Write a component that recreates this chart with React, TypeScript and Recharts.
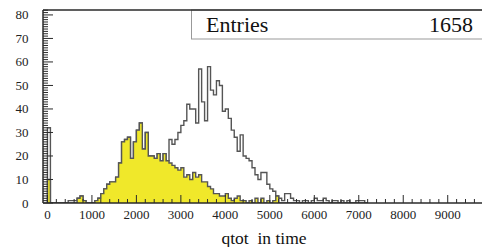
import React from 'react';
import { ComposedChart, Area, XAxis, YAxis } from 'recharts';

// 150 bins over 0..10000 (bin width 66.67)
const BIN_COUNT = 150;
const X_MAX = 10000;

// all entries (white histogram), one value per bin starting at 0
const totalCounts = [
  32, 0, 0, 0, 0, 0, 0, 1, 1, 1,
  2, 3, 1, 0, 0, 0, 1, 2, 4, 6,
  8, 9, 9, 11, 17, 26, 27, 28, 19, 26,
  31, 34, 23, 30, 20, 20, 19, 21, 18, 21,
  18, 27, 25, 27, 30, 33, 35, 42, 40, 40,
  34, 57, 43, 35, 58, 48, 46, 52, 50, 39,
  40, 36, 31, 28, 22, 29, 20, 19, 18, 15,
  12, 10, 13, 13, 8, 6, 5, 3, 2, 1,
  4, 4, 2, 1, 1, 0, 1, 1, 0, 1,
  2, 1, 1, 2, 1, 0, 1, 1, 0, 1,
  0, 1, 0, 0, 1, 1, 1, 0,
];

// selected entries (yellow filled histogram)
const passCounts = [
  10, 0, 0, 0, 0, 0, 0, 0, 0, 0,
  2, 3, 1, 0, 0, 0, 1, 2, 4, 6,
  8, 9, 9, 11, 17, 26, 27, 28, 19, 26,
  31, 34, 23, 30, 20, 20, 19, 21, 18, 21,
  18, 17, 16, 15, 14, 15, 11, 12, 10, 13,
  11, 12, 9, 9, 7, 6, 4, 4, 3, 3,
  4, 2, 1, 2, 3, 1, 1, 0, 1, 0,
  2, 0, 2, 0, 1, 0, 1, 3, 0, 0,
];

const xMajorTicks = [0, 1000, 2000, 3000, 4000, 5000, 6000, 7000, 8000, 9000];
const yMajorTicks = [0, 10, 20, 30, 40, 50, 60, 70, 80];
const statsLabel = 'Entries';
const statsValue = '1658';
const xTitle = 'qtot  in time';

const binWidth = X_MAX / BIN_COUNT;
const nBins = Math.max(totalCounts.length, passCounts.length);
const data: { x: number; total: number; pass: number }[] = [{ x: 0, total: 0, pass: 0 }];
for (let i = 0; i < nBins; i++) {
  data.push({ x: i * binWidth, total: totalCounts[i] ?? 0, pass: passCounts[i] ?? 0 });
}
data.push({ x: nBins * binWidth, total: 0, pass: 0 });

const xMinorTicks: number[] = [];
for (let v = 0; v < X_MAX; v += 200) xMinorTicks.push(v);
const yMinorTicks: number[] = [];
for (let v = 0; v <= 82; v += 1) yMinorTicks.push(v);

const FONT = '"Liberation Serif", "Times New Roman", serif';
const AXIS = '#2a2a2a';

const XTick = (props: any) => {
  const { x, y, payload } = props;
  const v = payload.value;
  const major = xMajorTicks.includes(v);
  return (
    <g>
      <line x1={x} x2={x} y1={y} y2={y - (major ? 8 : 4)} stroke={AXIS} strokeWidth={1} />
      {major && (
        <text x={x} y={y + 15.8} textAnchor="middle" fontFamily={FONT} fontSize={13} fill="#222">
          {v}
        </text>
      )}
    </g>
  );
};

const YTick = (props: any) => {
  const { x, y, payload } = props;
  const v = payload.value;
  const major = yMajorTicks.includes(v);
  return (
    <g>
      <line x1={x} x2={x + (major ? 10 : 5)} y1={y} y2={y} stroke={AXIS} strokeWidth={1} />
      {major && (
        <text x={x - 14.5} y={y + 4.5} textAnchor="end" fontFamily={FONT} fontSize={13} fill="#222">
          {v}
        </text>
      )}
    </g>
  );
};

export default function App() {
  return (
    <div style={{ position: 'absolute', left: 0, top: 0, width: 482, height: 247, overflow: 'hidden', background: '#fff' }}>
      <ComposedChart width={500} height={247} data={data} margin={{ top: 10, right: 7.8, left: 0, bottom: 0 }}>
        <XAxis
          dataKey="x"
          type="number"
          domain={[-100, X_MAX]}
          allowDataOverflow
          ticks={xMinorTicks}
          interval={0}
          tickSize={0}
          tickMargin={0}
          tickLine={false}
          axisLine={{ stroke: AXIS, strokeWidth: 1.5 }}
          height={44}
          tick={<XTick />}
        />
        <YAxis
          type="number"
          domain={[0, 82.1]}
          allowDataOverflow
          ticks={yMinorTicks}
          interval={0}
          tickSize={0}
          tickMargin={0}
          tickLine={false}
          axisLine={{ stroke: AXIS, strokeWidth: 1.5 }}
          width={43}
          tick={<YTick />}
        />
        <Area
          dataKey="total"
          type="stepAfter"
          stroke="#555"
          strokeWidth={1.4}
          fill="none"
          fillOpacity={0}
          dot={false}
          activeDot={false}
          isAnimationActive={false}
        />
        <Area
          dataKey="pass"
          type="stepAfter"
          stroke="#555"
          strokeWidth={1.4}
          fill="#f0e82a"
          fillOpacity={1}
          dot={false}
          activeDot={false}
          isAnimationActive={false}
        />
      </ComposedChart>
      <svg width={482} height={247} style={{ position: 'absolute', left: 0, top: 0, pointerEvents: 'none' }}>
        <rect x={191.5} y={10} width={400} height={29} fill="#fff" stroke="#999" strokeWidth={1} />
        <line x1={43} x2={482} y1={10} y2={10} stroke={AXIS} strokeWidth={1.6} />
        <text x={206} y={32.3} fontFamily={FONT} fontSize={22} fill="#111">{statsLabel}</text>
        <text x={473} y={32.3} textAnchor="end" fontFamily={FONT} fontSize={22} fill="#111">{statsValue}</text>
        <text x={264} y={243.5} textAnchor="middle" fontFamily={FONT} fontSize={17.5} fill="#111" style={{ whiteSpace: 'pre' }}>
          {xTitle}
        </text>
      </svg>
    </div>
  );
}
